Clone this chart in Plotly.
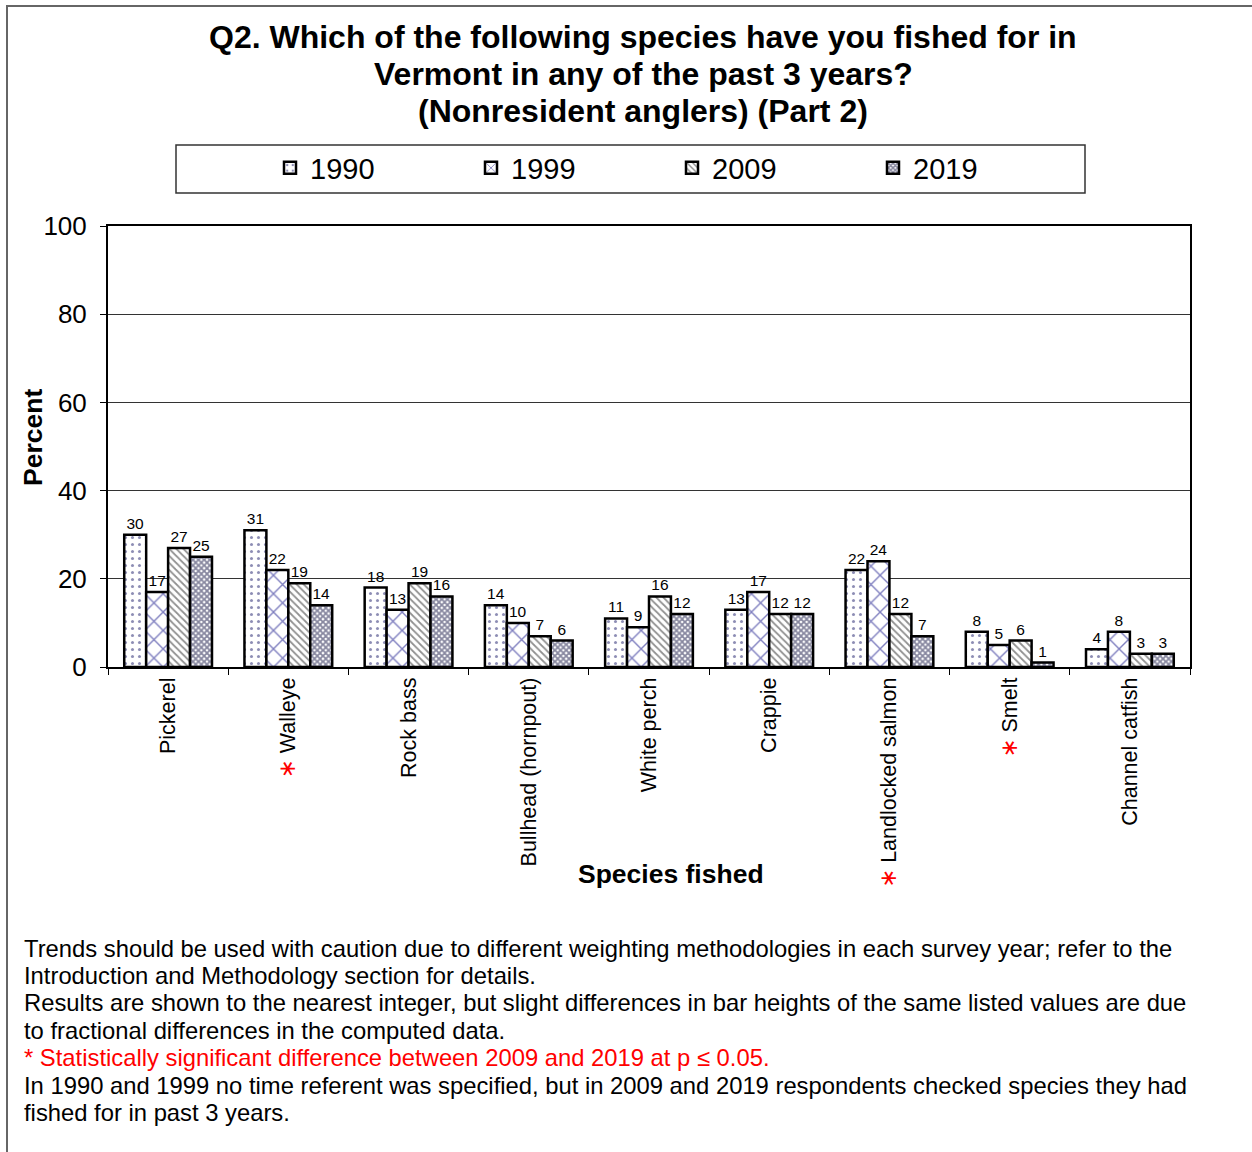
import plotly.graph_objects as go

# Species and share of nonresident anglers (%) by survey year
species = ["Pickerel", "Walleye", "Rock bass", "Bullhead (hornpout)", "White perch",
           "Crappie", "Landlocked salmon", "Smelt", "Channel catfish"]
significant = ["Walleye", "Landlocked salmon", "Smelt"]
years = ["1990", "1999", "2009", "2019"]
pct_1990 = [30, 31, 18, 14, 11, 13, 22, 8, 4]
pct_1999 = [17, 22, 13, 10, 9, 17, 24, 5, 8]
pct_2009 = [27, 19, 19, 7, 16, 12, 12, 6, 3]
pct_2019 = [25, 14, 16, 6, 12, 12, 7, 1, 3]
y_ticks = [0, 20, 40, 60, 80, 100]

series = [pct_1990, pct_1999, pct_2009, pct_2019]
patterns = [
    dict(shape=".", fgcolor="#1c1c6a", bgcolor="white", size=7, solidity=0.15),
    dict(shape="x", fgcolor="#000080", bgcolor="white", size=13, solidity=0.2),
    dict(shape="\\", fgcolor="#222222", bgcolor="white", size=5, solidity=0.35),
    dict(shape="x", fgcolor="#101040", bgcolor="white", size=4, solidity=0.7),
]

FONT = "Liberation Sans, Arial, sans-serif"

# plot area in pixels: x 108..1190, y 226..667
L, R, T, B = 108, 1190, 226, 667
W, H = R - L, B - T


def px(x):
    return (x - L) / W


def py(y):
    return (B - y) / H


fig = go.Figure()
for yr, vals, pat in zip(years, series, patterns):
    fig.add_trace(go.Bar(
        name=yr, x=species, y=vals,
        text=[str(v) for v in vals], textposition="outside",
        textfont=dict(family=FONT, size=15.5, color="black"),
        cliponaxis=False,
        marker=dict(color="white", pattern=pat, line=dict(color="black", width=2.5)),
    ))

tick_text = [
    ("<span style='color:red;font-size:23px;font-family:DejaVu Sans'>\u2217</span> " + s)
    if s in significant else s
    for s in species
]

fig.update_layout(
    width=1252, height=1152,
    margin=dict(l=L, r=1252 - R, t=T, b=1152 - B),
    paper_bgcolor="white", plot_bgcolor="white",
    barmode="group", bargap=0.27, bargroupgap=0,
    font=dict(family=FONT, color="black"),
    showlegend=True,
    legend=dict(
        orientation="h", x=px(270), y=py(168), xanchor="left", yanchor="middle",
        entrywidth=156, entrywidthmode="pixels",
        font=dict(family=FONT, size=29), bgcolor="rgba(0,0,0,0)", itemwidth=30,
    ),
    xaxis=dict(
        tickmode="array", tickvals=species, ticktext=tick_text, tickangle=-90,
        tickfont=dict(family=FONT, size=21.5), ticks="outside", tickson="boundaries",
        ticklen=6, tickcolor="black", showline=True, linecolor="black", linewidth=2,
        mirror=True, showgrid=False,
    ),
    yaxis=dict(
        range=[0, 100], tickvals=y_ticks, tickfont=dict(family=FONT, size=26),
        ticks="outside", ticklen=6, tickcolor="black", showline=True,
        linecolor="black", linewidth=2, mirror=True, showgrid=True,
        gridcolor="#333333", gridwidth=1, zeroline=False, ticklabelstandoff=8,
    ),
)

shapes = [
    # legend frame
    dict(type="rect", xref="paper", yref="paper", x0=px(176), x1=px(1085),
         y0=py(193), y1=py(145), line=dict(color="#333333", width=1.5)),
    # outer frame
    dict(type="rect", xref="paper", yref="paper", x0=px(7), x1=px(1262),
         y0=py(1165), y1=py(6), line=dict(color="#666666", width=2)),
]
fig.update_layout(shapes=shapes)

ann = []
title_lines = [
    "Q2. Which of the following species have you fished for in",
    "Vermont in any of the past 3 years?",
    "(Nonresident anglers) (Part 2)",
]
for i, line in enumerate(title_lines):
    ann.append(dict(text="<b>" + line + "</b>", x=px(643), y=py(37 + 37 * i),
                    xanchor="center", yanchor="middle",
                    font=dict(family=FONT, size=32), showarrow=False))

ann += [
    dict(text="<b>Percent</b>", x=px(33), y=py(438), textangle=-90,
         xanchor="center", yanchor="middle", font=dict(family=FONT, size=26.5), showarrow=False),
    dict(text="<b>Species fished</b>", x=px(671), y=py(874),
         xanchor="center", yanchor="middle", font=dict(family=FONT, size=26.5), showarrow=False),
]

notes = [
    ("Trends should be used with caution due to different weighting methodologies in each survey year; refer to the", "black"),
    ("Introduction and Methodology section for details.", "black"),
    ("Results are shown to the nearest integer, but slight differences in bar heights of the same listed values are due", "black"),
    ("to fractional differences in the computed data.", "black"),
    ("* Statistically significant difference between 2009 and 2019 at p \u2264 0.05.", "red"),
    ("In 1990 and 1999 no time referent was specified, but in 2009 and 2019 respondents checked species they had", "black"),
    ("fished for in past 3 years.", "black"),
]
for i, (txt, col) in enumerate(notes):
    ann.append(dict(text=txt, x=px(22), y=py(948 + i * 27.4), xanchor="left", yanchor="middle",
                    font=dict(family=FONT, size=23.8, color=col), showarrow=False))

for a in ann:
    a.setdefault("xref", "paper")
    a.setdefault("yref", "paper")
fig.update_layout(annotations=ann)

fig.write_html("out.html")
